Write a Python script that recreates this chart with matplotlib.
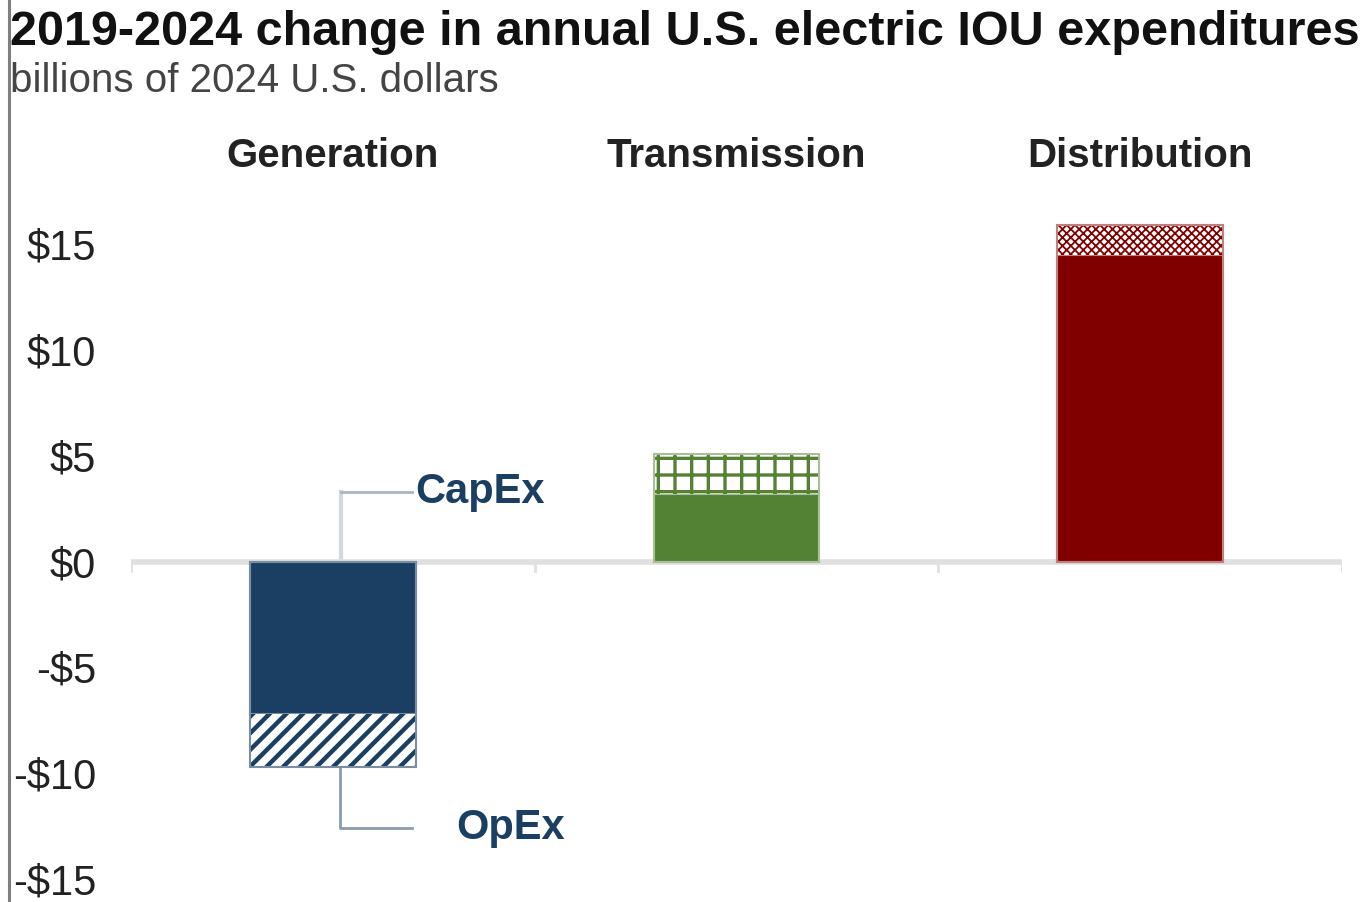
import matplotlib
matplotlib.use('Agg')
import matplotlib.pyplot as plt
from matplotlib.lines import Line2D
from matplotlib.transforms import blended_transform_factory
import numpy as np

plt.rcParams['font.family'] = ['Liberation Sans', 'DejaVu Sans']

# values (billions of 2024 US$)
categories = ['Generation', 'Transmission', 'Distribution']
capex = [-7.2, 3.2, 14.5]
opex = [-2.5, 1.9, 1.4]
yticks = [-15, -10, -5, 0, 5, 10, 15]

colors = ['#1b3f62', '#548235', '#800000']
edges = ['#7a8ea3', '#a9bf9a', '#c08080']
hatches = ['//', '+', 'xxxx']
hatch_lw = [3.2, 2.4, 1.3]

H = 902.0
fig = plt.figure(figsize=(13.66, 9.02), dpi=100)
ax = fig.add_axes([131/1366, 0, (1342-131)/1366, 702/H])

x = np.arange(len(categories))
w = 0.41
for i in range(len(categories)):
    ax.bar(x[i], capex[i], width=w, color=colors[i], edgecolor=edges[i], linewidth=1.5, zorder=3)
    with plt.rc_context({'hatch.linewidth': hatch_lw[i]}):
        ax.bar(x[i], opex[i], width=w, bottom=capex[i], facecolor='white',
               edgecolor=colors[i], hatch=hatches[i], linewidth=0, zorder=3)
    # outline around the whole stack
    ax.bar(x[i], capex[i] + opex[i], width=w, fill=False, edgecolor=edges[i], linewidth=1.5, zorder=4)

ax.set_xlim(-0.5, 2.5)
ax.set_ylim(-16.08, 17.08)
ax.axhline(0, color='#e0e0e0', lw=4, zorder=2)
for b in [-0.5, 0.5, 1.5, 2.5]:
    ax.plot([b, b], [0, -0.45], color='#e0e0e0', lw=2, zorder=2)

for s in ax.spines.values():
    s.set_visible(False)
ax.set_xticks([])
ax.set_yticks(yticks)
ax.set_yticklabels([('-$%d' % -v) if v < 0 else ('$%d' % v) for v in yticks],
                   fontsize=30, color='#222222')
ax.tick_params(axis='y', length=0, pad=25)

# category headers above the plot
trans = blended_transform_factory(ax.transData, fig.transFigure)
for i, c in enumerate(categories):
    ax.text(x[i], (H - 167) / H, c, transform=trans,
            ha='center', va='baseline', fontsize=29, fontweight='bold', color='#222222')

# CapEx / OpEx callouts
lab = '#1b3f62'
ax.plot([0.02, 0.02], [0, 3.28], color='#d0d8e0', lw=3, zorder=1)
ax.plot([0.02, 0.195], [3.28, 3.28], color='#aab6c4', lw=2, zorder=1)
ax.text(0.205, 3.28, 'CapEx', ha='left', va='center', fontsize=30, fontweight='bold', color=lab)
ax.plot([0.017, 0.017, 0.195], [-9.7, -12.6, -12.6], color='#8a9bb0', lw=2, zorder=1)
ax.text(0.305, -12.6, 'OpEx', ha='left', va='center', fontsize=30, fontweight='bold', color=lab)

fig.text(10/1366, 1 - 45/H, '2019-2024 change in annual U.S. electric IOU expenditures',
         ha='left', va='baseline', fontsize=35, fontweight='bold', color='#111111')
fig.text(10/1366, 1 - 92/H, 'billions of 2024 U.S. dollars',
         ha='left', va='baseline', fontsize=29, color='#444444')
fig.add_artist(Line2D([9/1366, 9/1366], [0, 1], color='#7f7f7f', lw=2.2))

fig.savefig('out.png', dpi=100)
